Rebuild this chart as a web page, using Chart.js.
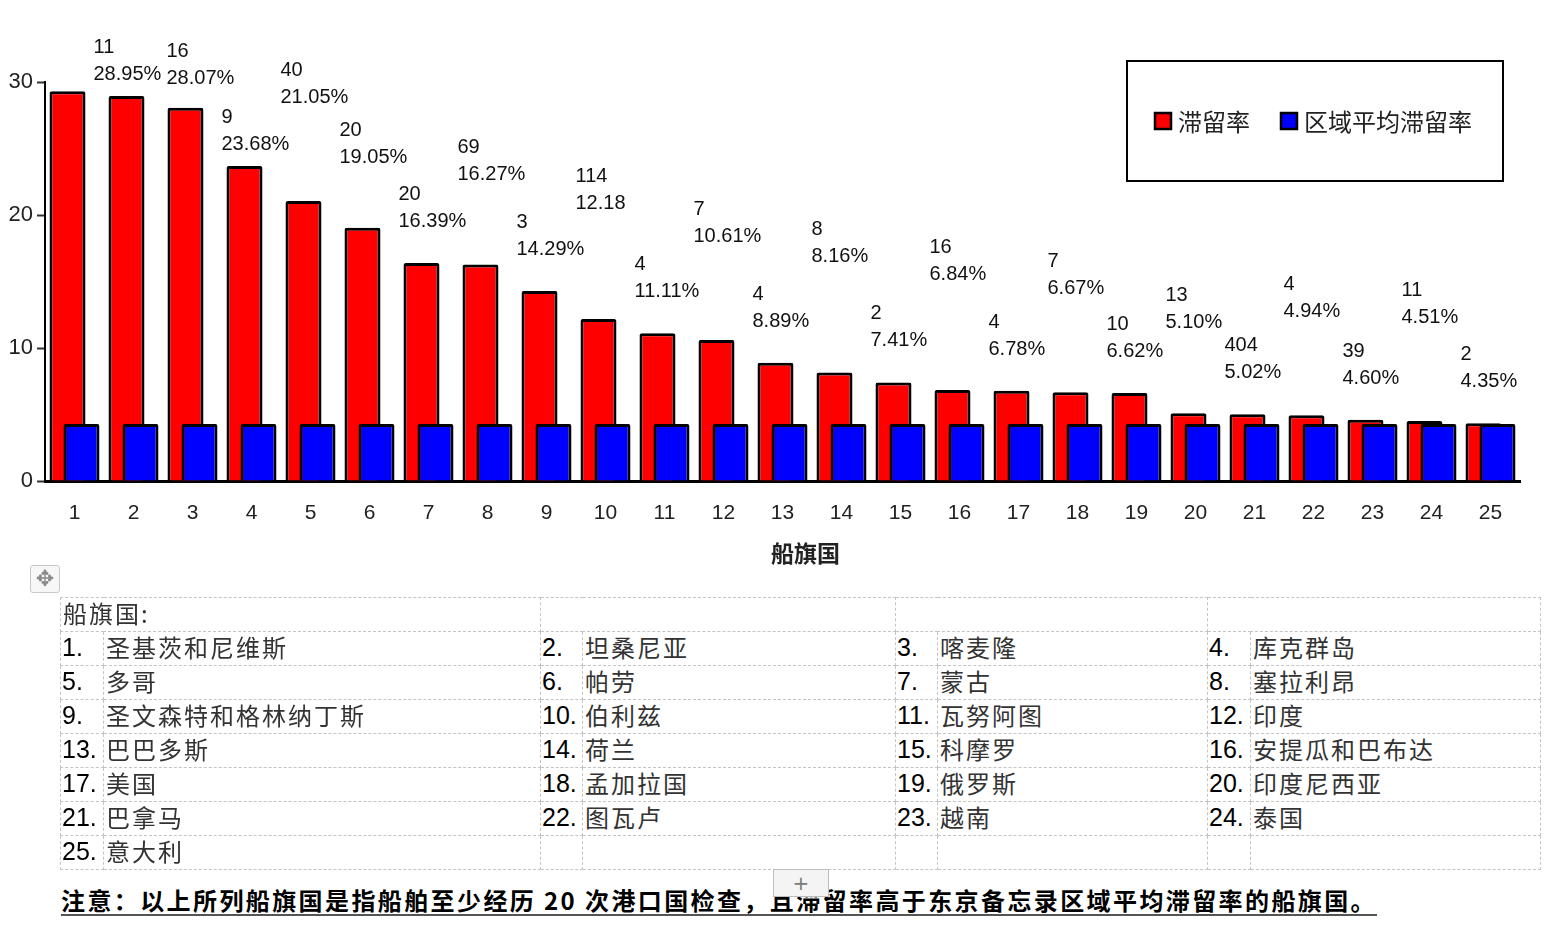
<!DOCTYPE html>
<html>
<head>
<meta charset="utf-8">
<script src="https://cdn.jsdelivr.net/npm/chart.js@4.4.0/dist/chart.umd.min.js"></script>
<style>
html,body{margin:0;padding:0;background:#fff;width:1546px;height:940px;overflow:hidden;position:relative;font-family:"Liberation Sans",Arial,"Noto Sans CJK SC",sans-serif;}
#wrap{position:absolute;left:0;top:0;width:1546px;height:580px;}
#flagTable{position:absolute;left:60px;top:597px;border-collapse:collapse;table-layout:fixed;width:1480px;}
#flagTable td{border:1px dashed #c4c4c4;height:33px;padding:0 0 3px 2px;font-size:24px;line-height:30px;white-space:nowrap;overflow:hidden;vertical-align:middle;box-sizing:border-box;}
#flagTable td.n{font-family:"Liberation Sans",Arial,sans-serif;color:#000;font-size:25px;padding-left:1px;}
#flagTable td.c{font-family:"Noto Sans CJK SC",sans-serif;color:#333;letter-spacing:2px;}
#flagTable td.h{font-family:"Noto Sans CJK SC",sans-serif;color:#333;letter-spacing:2px;}
#moveIcon{position:absolute;left:30px;top:565px;width:28px;height:26px;border:1px solid #c8c8c8;border-radius:3px;background:#f7f7f7;color:#8a8a8a;font-family:"DejaVu Sans",sans-serif;font-size:22px;line-height:26px;text-align:center;}
#plusBox{position:absolute;left:773px;top:869px;width:54px;height:26px;border:1px solid #bdbdbd;background:#f4f4f4;color:#7a7a7a;font-family:"DejaVu Sans",sans-serif;font-size:20px;line-height:26px;text-align:center;z-index:2;}
#note{position:absolute;left:61px;top:886px;font-family:"Noto Sans CJK SC",sans-serif;font-weight:bold;font-size:24px;letter-spacing:2.4px;color:#000;line-height:28px;border-bottom:2px solid #555;white-space:nowrap;z-index:1;}
</style>
</head>
<body>
<div id="wrap"><canvas id="c" width="1546" height="580"></canvas></div>
<div id="moveIcon">✥</div>
<table id="flagTable"></table>
<div id="note">注意：以上所列船旗国是指船舶至少经历 20 次港口国检查，且滞留率高于东京备忘录区域平均滞留率的船旗国。</div>
<div id="plusBox">+</div>
<script>
// ---------- data ----------
const categories = ['1','2','3','4','5','6','7','8','9','10','11','12','13','14','15','16','17','18','19','20','21','22','23','24','25'];
const seriesNames = ['滞留率', '区域平均滞留率'];
const detentionRate = [29.3, 28.95, 28.07, 23.68, 21.05, 19.05, 16.39, 16.27, 14.29, 12.18, 11.11, 10.61, 8.89, 8.16, 7.41, 6.84, 6.78, 6.67, 6.62, 5.10, 5.02, 4.94, 4.60, 4.51, 4.35];
const regionalAverage = [4.29, 4.29, 4.29, 4.29, 4.29, 4.29, 4.29, 4.29, 4.29, 4.29, 4.29, 4.29, 4.29, 4.29, 4.29, 4.29, 4.29, 4.29, 4.29, 4.29, 4.29, 4.29, 4.29, 4.29, 4.29];
const detentionCounts = [null, 11, 16, 9, 40, 20, 20, 69, 3, 114, 4, 7, 4, 8, 2, 16, 4, 7, 10, 13, 404, 4, 39, 11, 2];
const rateLabels = ['', '28.95%', '28.07%', '23.68%', '21.05%', '19.05%', '16.39%', '16.27%', '14.29%', '12.18', '11.11%', '10.61%', '8.89%', '8.16%', '7.41%', '6.84%', '6.78%', '6.67%', '6.62%', '5.10%', '5.02%', '4.94%', '4.60%', '4.51%', '4.35%'];
const yTicks = [0, 10, 20, 30];
const axisTitle = '船旗国';
const tableHeader = '船旗国:';
const flagNames = ['圣基茨和尼维斯','坦桑尼亚','喀麦隆','库克群岛','多哥','帕劳','蒙古','塞拉利昂','圣文森特和格林纳丁斯','伯利兹','瓦努阿图','印度','巴巴多斯','荷兰','科摩罗','安提瓜和巴布达','美国','孟加拉国','俄罗斯','印度尼西亚','巴拿马','图瓦卢','越南','泰国','意大利'];

// ---------- table ----------
(function buildTable(){
  const t = document.getElementById('flagTable');
  const cg = document.createElement('colgroup');
  [43,437,42,313,42,270,43,290].forEach(w=>{const c=document.createElement('col');c.style.width=w+'px';cg.appendChild(c);});
  t.appendChild(cg);
  const hr = document.createElement('tr');
  for (let k=0;k<4;k++){const td=document.createElement('td');td.colSpan=2;td.className='h';td.textContent=k===0?tableHeader:'';hr.appendChild(td);}
  t.appendChild(hr);
  for (let r=0;r<Math.ceil(flagNames.length/4);r++){
    const tr=document.createElement('tr');
    for (let k=0;k<4;k++){
      const idx=r*4+k;
      const n=document.createElement('td');n.className='n';
      const c=document.createElement('td');c.className='c';
      if(idx<flagNames.length){n.textContent=(idx+1)+'.';c.textContent=flagNames[idx];}
      tr.appendChild(n);tr.appendChild(c);
    }
    t.appendChild(tr);
  }
})();

// ---------- plugins ----------
// draw the first series first so the second series sits in front of it
const drawOrder = {
  id:'drawOrder',
  beforeDatasetDraw(){ return false; },
  afterDatasetsDraw(chart){
    chart.data.datasets.forEach((ds,i)=>{
      const meta = chart.getDatasetMeta(i);
      if (meta.visible !== false) meta.controller.draw();
    });
  }
};
const barLabels = {
  id:'barLabels',
  afterDatasetsDraw(chart, args, opts){
    const meta = chart.getDatasetMeta(0);
    const ctx = chart.ctx;
    ctx.save();
    ctx.font = opts.font;
    ctx.fillStyle = opts.color;
    ctx.textAlign = 'left';
    ctx.textBaseline = 'alphabetic';
    meta.data.forEach((bar,i)=>{
      if (detentionCounts[i] == null) return;
      const gap = opts.gaps[opts.levels[i]];
      const x = bar.x - bar.width/2 + opts.dx + (opts.nudge[i] || 0);
      const y2 = bar.y - gap;
      ctx.fillText(rateLabels[i], x, y2);
      ctx.fillText(String(detentionCounts[i]), x, y2 - opts.lineHeight);
    });
    ctx.restore();
  }
};
const boxLegend = {
  id:'boxLegend',
  afterDraw(chart, args, opts){
    const ctx = chart.ctx;
    const bx = chart.chartArea.right - opts.rightInset - opts.width;
    const by = opts.top;
    ctx.save();
    ctx.lineWidth = 2; ctx.strokeStyle = '#000';
    ctx.strokeRect(bx, by, opts.width, opts.height);
    ctx.font = opts.font;
    ctx.textBaseline = 'middle'; ctx.textAlign = 'left';
    let x = bx + opts.padLeft;
    const cy = by + opts.height/2;
    chart.data.datasets.forEach(ds=>{
      ctx.fillStyle = ds.backgroundColor;
      ctx.fillRect(x, cy-8, 16, 16);
      ctx.lineWidth = 2.5; ctx.strokeStyle = '#000';
      ctx.strokeRect(x, cy-8, 16, 16);
      ctx.fillStyle = '#222';
      ctx.fillText(ds.label, x + 23, cy + 1);
      x += 23 + ctx.measureText(ds.label).width + opts.itemGap;
    });
    ctx.restore();
  }
};
const xTitle = {
  id:'xTitle',
  afterDraw(chart, args, opts){
    const ctx = chart.ctx;
    const ca = chart.chartArea;
    ctx.save();
    ctx.font = opts.font;
    ctx.fillStyle = opts.color;
    ctx.textAlign = 'center';
    ctx.textBaseline = 'middle';
    ctx.fillText(opts.text, (ca.left + ca.right)/2 + opts.dx, chart.scales.x.bottom - opts.fromBottom);
    ctx.restore();
  }
};

// ---------- chart ----------
new Chart(document.getElementById('c'), {
  type:'bar',
  data:{
    labels:categories,
    datasets:[
      {label:seriesNames[0], data:detentionRate, backgroundColor:'#ff0000', borderColor:'#000', borderWidth:3, borderRadius:2, categoryPercentage:0.475, barPercentage:2.57},
      {label:seriesNames[1], data:regionalAverage, backgroundColor:'#0000ff', borderColor:'#000', borderWidth:3, borderRadius:2, categoryPercentage:0.475, barPercentage:2.57}
    ]
  },
  options:{
    responsive:false,
    animation:false,
    devicePixelRatio:1,
    layout:{padding:{top:82,right:26,left:0,bottom:0}},
    plugins:{
      legend:{display:false},
      tooltip:{enabled:false},
      barLabels:{font:'20px "Liberation Sans", Arial, sans-serif', color:'#111', dx:-5, lineHeight:27,
        gaps:[16, 36, 65, 85, 98, 110, 24],
        levels:[0,0,6,0,4,2,1,3,1,5,1,4,1,5,1,5,1,4,1,3,1,4,1,4,1],
        nudge:{1:-10, 2:4}},
      boxLegend:{top:61, width:376, height:120, rightInset:17, padLeft:28, itemGap:31, font:'24px "Noto Sans CJK SC", sans-serif'},
      xTitle:{text:axisTitle, font:'bold 23px "Noto Sans CJK SC", sans-serif', color:'#222', dx:23, fromBottom:27}
    },
    scales:{
      x:{
        grid:{drawOnChartArea:false, drawTicks:false},
        border:{color:'#000', width:3},
        ticks:{padding:20, color:'#222', font:{size:21, family:'"Liberation Sans", Arial, sans-serif'}},
        title:{display:false},
        afterFit(s){ s.height = 99; }
      },
      y:{
        min:yTicks[0], max:yTicks[yTicks.length-1],
        afterBuildTicks(s){ s.ticks = yTicks.map(v=>({value:v})); },
        ticks:{padding:4, color:'#222', font:{size:22, family:'"Liberation Sans", Arial, sans-serif'}},
        grid:{drawOnChartArea:false, drawTicks:true, tickLength:8, color:'#333', tickWidth:2},
        border:{color:'#000', width:2},
        afterFit(s){ s.width = 45; }
      }
    }
  },
  plugins:[drawOrder, barLabels, boxLegend, xTitle]
});
</script>
</body>
</html>
